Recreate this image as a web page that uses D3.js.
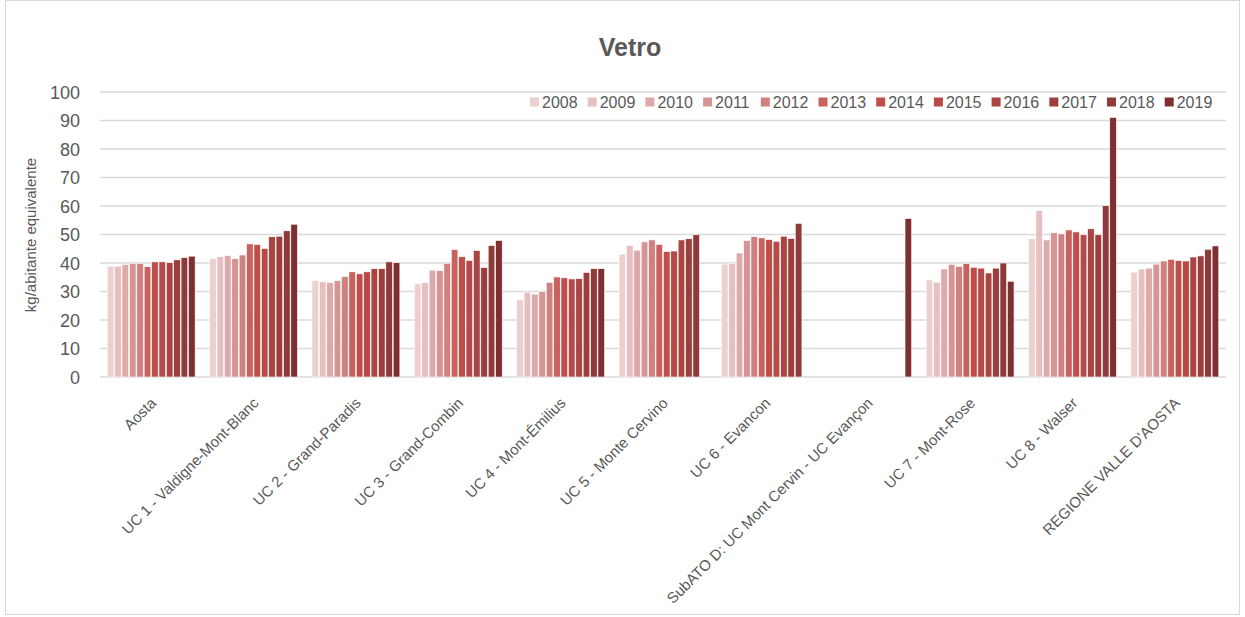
<!DOCTYPE html>
<html><head><meta charset="utf-8">
<script src="https://cdn.jsdelivr.net/npm/d3@7"></script>
<style>
body{margin:0;background:#fff;}
text{font-family:"Liberation Sans",Arial,sans-serif;fill:#595959;}
</style></head>
<body><svg id="c" width="1245" height="617"></svg>
<script>
const categories = ["Aosta","UC 1 - Valdigne-Mont-Blanc","UC 2 - Grand-Paradis","UC 3 - Grand-Combin","UC 4 - Mont-Émilius","UC 5 - Monte Cervino","UC 6 - Evancon","SubATO D: UC Mont Cervin - UC Evançon","UC 7 - Mont-Rose","UC 8 - Walser","REGIONE VALLE D'AOSTA"];
const years = ["2008","2009","2010","2011","2012","2013","2014","2015","2016","2017","2018","2019"];
const yearColors = ["#ECCFCF","#E6C0C0","#DCAAAA","#D59595","#CF8080","#C8625F","#BF4E4B","#B44B48","#A94542","#9C3F3C","#8E3A38","#7E3030"];
const yTicks = [0,10,20,30,40,50,60,70,80,90,100];
// values per category, 2008..2019 (null = no data)
const vAosta   = [38.9,38.9,39.4,39.9,39.9,38.7,40.4,40.4,40.1,41.1,41.9,42.4];
const vUC1     = [41.5,42.2,42.6,41.5,42.8,46.7,46.5,45.1,49.2,49.4,51.3,53.6];
const vUC2     = [33.8,33.4,33.1,33.8,35.2,36.9,36.2,36.9,38.0,38.0,40.4,40.1];
const vUC3     = [32.7,33.1,37.5,37.3,39.9,44.7,42.2,40.9,44.4,38.4,46.1,47.9];
const vUC4     = [27.1,29.8,29.1,30.0,33.2,35.1,34.8,34.4,34.5,36.7,38.0,38.0];
const vUC5     = [43.1,46.2,44.5,47.4,48.1,46.5,44.0,44.2,48.1,48.5,49.9,null];
const vUC6     = [39.6,39.9,43.5,47.9,49.3,48.8,48.2,47.6,49.4,48.6,53.9,null];
const vSubATOD = [null,null,null,null,null,null,null,null,null,null,null,55.6];
const vUC7     = [34.1,33.3,37.9,39.5,38.8,39.8,38.5,38.2,36.5,38.2,40.0,33.6];
const vUC8     = [48.5,58.4,48.1,50.6,50.2,51.6,50.9,49.9,52.0,49.9,60.1,91.1];
const vRegione = [36.8,37.9,38.2,39.6,40.7,41.3,40.9,40.7,42.1,42.5,44.8,46.0];
const allValues = [vAosta,vUC1,vUC2,vUC3,vUC4,vUC5,vUC6,vSubATOD,vUC7,vUC8,vRegione];

const svg = d3.select("#c");
svg.append("rect").attr("x",5.5).attr("y",0.5).attr("width",1234).attr("height",614)
  .attr("fill","#fff").attr("stroke","#D9D9D9").attr("stroke-width",1);

const pL=100, pR=1226, pT=92, pB=377;
const x0 = d3.scaleBand().domain(categories).range([pL,pR]).paddingInner(0.127).paddingOuter(0.0635);
const x1 = d3.scaleBand().domain(years).range([0,x0.bandwidth()]).padding(0.1);
const y = d3.scaleLinear().domain([0,100]).range([pB,pT]);
const color = d3.scaleOrdinal().domain(years).range(yearColors);

svg.append("g").selectAll("line").data(yTicks).join("line")
  .attr("x1",pL).attr("x2",pR).attr("y1",d=>y(d)).attr("y2",d=>y(d))
  .attr("stroke","#D9D9D9").attr("stroke-width",1.5);

const yAxis = d3.axisLeft(y).tickValues(yTicks).tickSize(0).tickPadding(20);
const gy = svg.append("g").attr("transform",`translate(${pL},0)`).call(yAxis);
gy.select(".domain").remove();
gy.selectAll("text").style("font-size","18px").style("font-family","Liberation Sans, Arial, sans-serif").attr("fill","#595959").attr("dy","0.35em");

const rows = [];
categories.forEach((c,i)=>years.forEach((yr,j)=>{ if(allValues[i][j]!=null) rows.push({c,yr,v:allValues[i][j]}); }));
svg.append("g").selectAll("rect").data(rows).join("rect")
  .attr("x",d=>x0(d.c)+x1(d.yr)).attr("width",x1.bandwidth())
  .attr("y",d=>y(d.v)).attr("height",d=>y(0)-y(d.v))
  .attr("fill",d=>color(d.yr)).attr("stroke","#fff").attr("stroke-width",0.6);

const xAxis = d3.axisBottom(x0).tickSize(0).tickPadding(0);
const gx = svg.append("g").attr("transform",`translate(0,${pB})`).call(xAxis);
gx.select(".domain").remove();
gx.selectAll("text").style("font-size","15px").style("font-family","Liberation Sans, Arial, sans-serif").attr("fill","#595959")
  .attr("text-anchor","end").attr("dy",null).attr("y",0)
  .attr("transform","translate(6,27) rotate(-45)");

svg.append("text").attr("transform","translate(36,235) rotate(-90)")
  .attr("text-anchor","middle").style("font-size","15px").text("kg/abitante equivalente");

svg.append("text").attr("x",630).attr("y",56).attr("text-anchor","middle")
  .style("font-size","25px").style("font-weight","bold").text("Vetro");

const lg = svg.append("g").selectAll("g").data(years).join("g")
  .attr("transform",(d,i)=>`translate(${530+i*57.7},102)`);
lg.append("rect").attr("x",0).attr("y",-4.5).attr("width",9).attr("height",9).attr("fill",d=>color(d));
lg.append("text").attr("x",12).attr("y",0).attr("dy","0.35em").style("font-size","16px").text(d=>d);
</script></body></html>
